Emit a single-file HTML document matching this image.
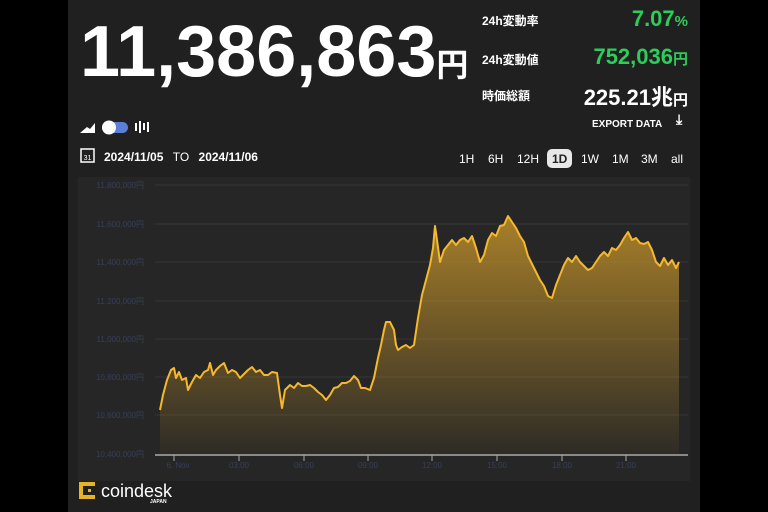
<!DOCTYPE html>
<html><head><meta charset="utf-8"><style>
body{margin:0;width:768px;height:512px;background:#000;overflow:hidden;font-family:"Liberation Sans","Noto Sans CJK JP",sans-serif;}
.panel{position:absolute;left:68px;top:0;width:632px;height:512px;background:#202020;}
.t{position:absolute;color:#fff;font-weight:bold;white-space:nowrap;}
</style></head><body>
<div class="panel"></div>
<div class="t" style="left:80px;top:16px;font-size:72px;line-height:1;">11,386,863<span style="font-size:32px;">円</span></div>
<div class="t" style="left:482px;top:12px;font-size:12px;">24h変動率</div>
<div class="t" style="left:482px;top:51px;font-size:12px;">24h変動値</div>
<div class="t" style="left:482px;top:87px;font-size:12px;">時価総額</div>
<div class="t" style="right:80px;top:6px;font-size:22px;color:#2ecc5a;">7.07<span style="font-size:15px">%</span></div>
<div class="t" style="right:80px;top:44px;font-size:22px;color:#2ecc5a;">752,036<span style="font-size:15px">円</span></div>
<div class="t" style="right:80px;top:80px;font-size:22px;">225.21兆<span style="font-size:15px">円</span></div>
<div class="t" style="left:592px;top:119px;font-size:10px;">EXPORT DATA</div>
<div class="t" style="left:676px;top:111px;font-size:14px;">⤓</div>
<svg style="position:absolute;left:0;top:0" width="768" height="512">
<polygon points="80,133 87,127 90,129 95,123 95,133" fill="#fff"/>
<rect x="102" y="122" width="26" height="11" rx="5.5" fill="#5b7fd6"/>
<circle cx="109" cy="127.5" r="7" fill="#fff"/>
<g stroke="#fff" stroke-width="2"><line x1="136" y1="123" x2="136" y2="131"/><line x1="140" y1="121" x2="140" y2="133"/><line x1="144" y1="123" x2="144" y2="130"/><line x1="148" y1="122" x2="148" y2="132"/></g>
<rect x="81" y="149" width="13" height="13" fill="none" stroke="#fff" stroke-width="1.5"/>
<text x="87.5" y="160" font-size="7" fill="#fff" text-anchor="middle" font-family="Liberation Sans">31</text>
<rect x="547" y="149" width="25" height="19" rx="5" fill="#e8e8e8"/>
<rect x="78" y="177" width="612" height="304" fill="#262626"/>
<g stroke="#363636" stroke-width="1">
<line x1="155" y1="185" x2="688" y2="185"/><line x1="155" y1="224" x2="688" y2="224"/><line x1="155" y1="262" x2="688" y2="262"/><line x1="155" y1="301" x2="688" y2="301"/><line x1="155" y1="339" x2="688" y2="339"/><line x1="155" y1="377" x2="688" y2="377"/><line x1="155" y1="415" x2="688" y2="415"/></g>
<g font-size="8" fill="#354058" font-family="Liberation Sans" text-anchor="end">
<text x="144" y="188">11,800,000円</text><text x="144" y="227">11,600,000円</text><text x="144" y="265">11,400,000円</text><text x="144" y="304">11,200,000円</text><text x="144" y="342">11,000,000円</text><text x="144" y="380">10,800,000円</text><text x="144" y="418">10,600,000円</text><text x="144" y="457">10,400,000円</text></g>
<defs><linearGradient id="g" x1="0" y1="0" x2="0" y2="1"><stop offset="0" stop-color="#c8962a" stop-opacity="0.8"/><stop offset="1" stop-color="#c8962a" stop-opacity="0.05"/></linearGradient></defs>
<g id="d">
<path d="M160,454 L160,410 163,395 167,380 171,370 174,368 176,378 179,372 182,380 186,378 188,390 192,382 196,375 200,378 204,372 208,370 210,363 213,375 216,370 220,366 224,363 228,373 232,370 236,372 240,378 244,374 248,370 252,367 256,372 260,370 264,375 268,375 272,372 277,373 280,395 282,408 285,390 290,385 294,388 298,383 302,386 306,386 310,385 314,388 318,392 322,395 326,400 330,395 334,388 338,387 342,383 346,383 350,381 354,376 358,380 361,388 365,388 370,390 374,378 378,358 381,345 384,330 386,322 390,322 394,330 396,345 398,350 402,347 406,345 410,348 414,345 418,318 422,295 426,280 430,265 433,248 435,226 437,240 440,262 444,250 448,245 452,240 456,245 460,240 464,238 468,242 472,236 476,248 480,262 484,255 488,240 492,233 496,236 500,226 504,225 508,216 512,222 516,228 520,236 524,242 528,256 532,264 536,272 540,280 544,286 548,296 552,298 556,285 560,275 564,265 568,258 572,262 576,256 580,262 584,266 588,270 592,268 596,262 600,256 604,252 608,256 612,248 616,250 620,245 624,238 628,232 632,240 636,238 640,243 644,244 648,242 652,250 656,262 660,266 664,258 668,265 672,260 676,268 679,262 L679,454 Z" fill="url(#g)"/>
<polyline points="160,410 163,395 167,380 171,370 174,368 176,378 179,372 182,380 186,378 188,390 192,382 196,375 200,378 204,372 208,370 210,363 213,375 216,370 220,366 224,363 228,373 232,370 236,372 240,378 244,374 248,370 252,367 256,372 260,370 264,375 268,375 272,372 277,373 280,395 282,408 285,390 290,385 294,388 298,383 302,386 306,386 310,385 314,388 318,392 322,395 326,400 330,395 334,388 338,387 342,383 346,383 350,381 354,376 358,380 361,388 365,388 370,390 374,378 378,358 381,345 384,330 386,322 390,322 394,330 396,345 398,350 402,347 406,345 410,348 414,345 418,318 422,295 426,280 430,265 433,248 435,226 437,240 440,262 444,250 448,245 452,240 456,245 460,240 464,238 468,242 472,236 476,248 480,262 484,255 488,240 492,233 496,236 500,226 504,225 508,216 512,222 516,228 520,236 524,242 528,256 532,264 536,272 540,280 544,286 548,296 552,298 556,285 560,275 564,265 568,258 572,262 576,256 580,262 584,266 588,270 592,268 596,262 600,256 604,252 608,256 612,248 616,250 620,245 624,238 628,232 632,240 636,238 640,243 644,244 648,242 652,250 656,262 660,266 664,258 668,265 672,260 676,268 679,262" fill="none" stroke="#f5b82e" stroke-width="2" stroke-linejoin="round"/>
</g>
<line x1="155" y1="455" x2="688" y2="455" stroke="#aaa" stroke-width="1.5"/>
<g stroke="#aaa" stroke-width="1"><line x1="174" y1="455" x2="174" y2="461"/><line x1="239" y1="455" x2="239" y2="461"/><line x1="304" y1="455" x2="304" y2="461"/><line x1="368" y1="455" x2="368" y2="461"/><line x1="432" y1="455" x2="432" y2="461"/><line x1="497" y1="455" x2="497" y2="461"/><line x1="562" y1="455" x2="562" y2="461"/><line x1="626" y1="455" x2="626" y2="461"/></g>
<g font-size="8" fill="#354058" font-family="Liberation Sans" text-anchor="middle">
<text x="178" y="468">6. Nov</text><text x="239" y="468">03:00</text><text x="304" y="468">06:00</text><text x="368" y="468">09:00</text><text x="432" y="468">12:00</text><text x="497" y="468">15:00</text><text x="562" y="468">18:00</text><text x="626" y="468">21:00</text></g>
<g fill="#e6b325"><rect x="79" y="482" width="4" height="17"/><rect x="79" y="482" width="16" height="4"/><rect x="79" y="495" width="16" height="4"/><rect x="88" y="489" width="3" height="3"/></g>
<text x="101" y="497" font-size="18" fill="#fff" font-family="Liberation Sans">coindesk</text>
<text x="150" y="503" font-size="5" fill="#fff" font-weight="bold" font-family="Liberation Sans">JAPAN</text>
</svg>
<div class="t" style="left:104px;top:150px;font-size:12px;">2024/11/05 <span style="font-weight:normal;margin:0 6px;">TO</span> 2024/11/06</div>
<div class="t" style="left:459px;top:152px;font-size:12px;font-weight:normal;">
<span style="position:absolute;left:0">1H</span><span style="position:absolute;left:29px">6H</span><span style="position:absolute;left:58px">12H</span><span style="position:absolute;left:93px;color:#222;font-weight:bold">1D</span><span style="position:absolute;left:122px">1W</span><span style="position:absolute;left:153px">1M</span><span style="position:absolute;left:182px">3M</span><span style="position:absolute;left:212px">all</span></div>
</body></html>
